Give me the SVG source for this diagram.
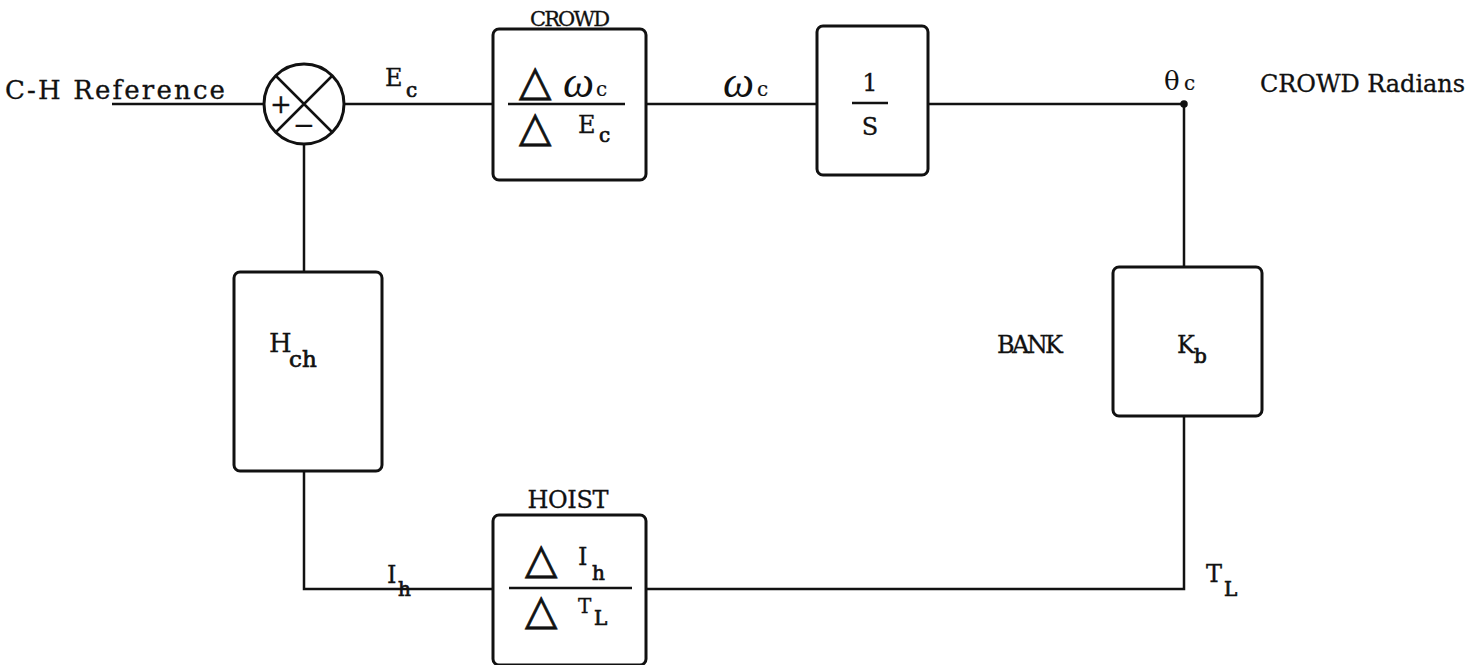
<svg xmlns="http://www.w3.org/2000/svg" width="1476" height="665" viewBox="0 0 1476 665">
<style>
.t{font-family:"DejaVu Serif","Liberation Serif",serif;font-size:24px;fill:#111;stroke:#111;stroke-width:0.3}
.s{font-family:"DejaVu Serif","Liberation Serif",serif;font-size:20px;fill:#111;stroke:#111;stroke-width:0.7}
.g{font-family:"Liberation Serif","DejaVu Serif",serif;font-style:italic;font-size:44px;fill:#111}
.d{font-family:"DejaVu Sans",sans-serif;font-size:42px;fill:#111;stroke:#111;stroke-width:0.8}
.box{fill:none;stroke:#111;stroke-width:3}
.ln{fill:none;stroke:#111;stroke-width:2.5}
</style>
<rect width="1476" height="665" fill="#fff"/>
<g id="connectors" class="ln">
<path d="M112,104 H264"/>
<path d="M344,104 H493"/>
<path d="M646,104 H817"/>
<path d="M928,104 H1184 V267"/>
<path d="M1184,416 V589 H646"/>
<path d="M493,589 H304 V471"/>
<path d="M304,272 V144"/>
<circle cx="1184" cy="104" r="2.5" fill="#111"/>
</g>
<g id="labels">
<text class="t" x="5" y="99" textLength="220" style="font-size:26px">C-H Reference</text>
<text class="t" x="385" y="86">E</text>
<text class="s" x="406" y="97">c</text>
<text class="g" x="723" y="97">ω</text>
<text class="s" x="757" y="96" style="stroke-width:0.2">c</text>
<text class="t" x="1164" y="90" style="font-size:26px;stroke-width:0">θ</text>
<text class="s" x="1184" y="90" style="stroke-width:0.2">c</text>
<text class="t" x="1260" y="92" textLength="205">CROWD Radians</text>
<text class="t" x="997" y="353" textLength="66">BANK</text>
<text class="t" x="387" y="583">I</text>
<text class="s" x="398" y="596">h</text>
<text class="t" x="1206" y="582">T</text>
<text class="s" x="1224" y="596">L</text>
</g>
<g id="sum">
<circle cx="304" cy="104" r="40" class="box"/>
<path d="M276,76 L332,132 M332,76 L276,132" class="ln"/>
<text class="t" x="281" y="113" text-anchor="middle" style="font-size:26px">+</text>
<text class="t" x="304" y="134" text-anchor="middle" style="font-size:26px">−</text>
</g>
<g id="crowd">
<text class="t" x="570" y="26" text-anchor="middle" textLength="80" style="font-size:21px">CROWD</text>
<rect x="493" y="29" width="153" height="151" rx="6" class="box"/>
<line x1="508" y1="104" x2="625" y2="104" class="ln"/>
<text class="d" x="519" y="95">△</text>
<text class="g" x="563" y="97">ω</text>
<text class="s" x="596" y="96" style="stroke-width:0.2">c</text>
<text class="d" x="519" y="141">△</text>
<text class="t" x="578" y="133">E</text>
<text class="s" x="599" y="142">c</text>
</g>
<g id="integrator">
<rect x="817" y="26" width="111" height="149" rx="6" class="box"/>
<text class="t" x="870" y="91" text-anchor="middle">1</text>
<line x1="852" y1="103" x2="888" y2="103" class="ln"/>
<text class="t" x="870" y="135" text-anchor="middle">S</text>
</g>
<g id="hch">
<rect x="234" y="272" width="148" height="199" rx="6" class="box"/>
<text class="t" x="269" y="352" style="font-size:26px">H</text>
<text class="s" x="289" y="367" style="font-size:23px">ch</text>
</g>
<g id="kb">
<rect x="1113" y="267" width="149" height="149" rx="6" class="box"/>
<text class="t" x="1177" y="353">K</text>
<text class="s" x="1194" y="363">b</text>
</g>
<g id="hoist">
<text class="t" x="568" y="508" text-anchor="middle" textLength="81">HOIST</text>
<rect x="493" y="515" width="153" height="150" rx="6" class="box"/>
<line x1="509" y1="588" x2="632" y2="588" class="ln"/>
<text class="d" x="525" y="573">△</text>
<text class="t" x="578" y="565">I</text>
<text class="s" x="592" y="580">h</text>
<text class="d" x="525" y="624">△</text>
<text class="t" x="578" y="613" style="font-size:20px">T</text>
<text class="s" x="594" y="625">L</text>
</g>
</svg>
